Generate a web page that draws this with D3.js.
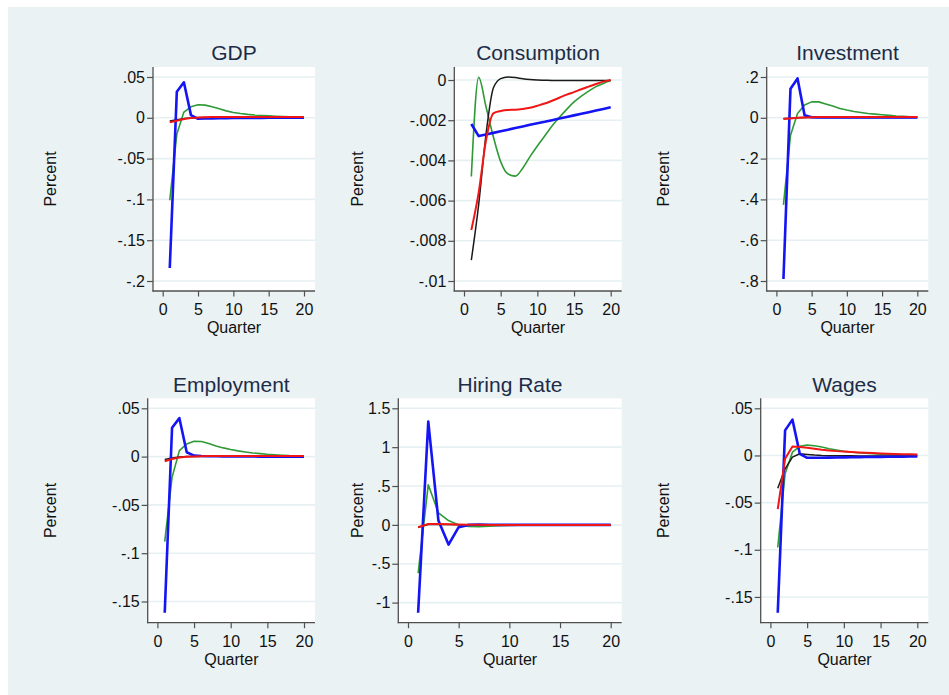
<!DOCTYPE html>
<html>
<head>
<meta charset="utf-8">
<script src="https://cdn.jsdelivr.net/npm/d3@7"></script>
<style>
  html, body { margin: 0; padding: 0; background: #ffffff; }
  svg { display: block; }
  text { font-family: "Liberation Sans", Arial, Helvetica, sans-serif; }
</style>
</head>
<body>
<svg id="chart" width="949" height="695"></svg>
<script>
// ---------------- DATA ----------------
const quarters = [1,2,3,4,5,6,7,8,9,10,11,12,13,14,15,16,17,18,19,20];
const panelTitles = ["GDP", "Consumption", "Investment", "Employment", "Hiring Rate", "Wages"];
const xTicks = [0, 5, 10, 15, 20];

// GDP
const gdpTicks  = [0.05, 0, -0.05, -0.1, -0.15, -0.2];
const gdpBlue   = [-0.184, 0.032, 0.0435, 0.0033, -0.0012, -0.0009, -0.0007, -0.0005, -0.0004, -0.0003, -0.0002, -0.0002, -0.0001, -0.0001, 0, 0, 0, 0, 0, 0];
const gdpGreen  = [-0.101, -0.02, 0.007, 0.0135, 0.016, 0.0155, 0.0135, 0.011, 0.0085, 0.0065, 0.0052, 0.0042, 0.0034, 0.0028, 0.0023, 0.0018, 0.0014, 0.0011, 0.0009, 0.0007];
const gdpRed    = [-0.0055, -0.0035, -0.0015, -0.0004, 0.0003, 0.0007, 0.0009, 0.001, 0.001, 0.001, 0.001, 0.001, 0.001, 0.001, 0.001, 0.001, 0.001, 0.001, 0.001, 0.001];
const gdpBlack  = [-0.004, -0.0025, -0.001, -0.0002, 0.0002, 0.0004, 0.0005, 0.0005, 0.0005, 0.0005, 0.0005, 0.0005, 0.0005, 0.0005, 0.0005, 0.0005, 0.0005, 0.0005, 0.0005, 0.0005];

// Consumption
const conTicks  = [0, -0.002, -0.004, -0.006, -0.008, -0.01];
const conBlue   = [-0.00219, -0.00279, -0.00271, -0.00263, -0.00255, -0.00247, -0.00239, -0.00231, -0.00223, -0.00215, -0.00208, -0.002, -0.00192, -0.00184, -0.00176, -0.00168, -0.0016, -0.00152, -0.00144, -0.00136];
const conGreen  = [-0.0048, 0.00013, -0.00133, -0.00282, -0.00406, -0.00468, -0.00478, -0.00439, -0.00381, -0.00328, -0.00279, -0.00229, -0.00186, -0.00146, -0.00109, -0.0008, -0.00055, -0.00033, -0.00017, -0.00003];
const conRed    = [-0.00746, -0.0056, -0.003, -0.00166, -0.00154, -0.00149, -0.00148, -0.00144, -0.00138, -0.00128, -0.00117, -0.00103, -0.00088, -0.00073, -0.0006, -0.00046, -0.00033, -0.0002, -0.00008, 0];
const conBlack  = [-0.00896, -0.0062, -0.0027, -0.0004, 0.00007, 0.00015, 0.00012, 0.00006, 0.00002, 0, -0.00001, -0.00002, -0.00002, -0.00003, -0.00003, -0.00003, -0.00003, -0.00003, -0.00003, -0.00003];

// Investment
const invTicks  = [0.2, 0, -0.2, -0.4, -0.6, -0.8];
const invBlue   = [-0.79, 0.142, 0.193, 0.013, 0.003, 0.002, 0.002, 0.002, 0.002, 0.002, 0.002, 0.002, 0.002, 0.002, 0.002, 0.002, 0.002, 0.002, 0.002, 0.002];
const invGreen  = [-0.427, -0.086, 0.021, 0.063, 0.078, 0.078, 0.068, 0.058, 0.046, 0.038, 0.031, 0.026, 0.021, 0.018, 0.015, 0.012, 0.009, 0.007, 0.005, 0.004];
const invRed    = [-0.006, -0.003, 0, 0.002, 0.003, 0.004, 0.004, 0.004, 0.004, 0.004, 0.004, 0.004, 0.004, 0.004, 0.004, 0.004, 0.004, 0.004, 0.004, 0.004];
const invBlack  = [-0.004, -0.002, 0, 0.001, 0.002, 0.002, 0.002, 0.002, 0.002, 0.002, 0.002, 0.002, 0.002, 0.002, 0.002, 0.002, 0.002, 0.002, 0.002, 0.002];

// Employment
const empTicks  = [0.05, 0, -0.05, -0.1, -0.15];
const empBlue   = [-0.1616, 0.0298, 0.0398, 0.0045, 0.001, 0.0006, 0.0004, 0.0003, 0.0002, 0.0002, 0.0001, 0.0001, 0.0001, 0, 0, 0, 0, 0, 0, 0];
const empGreen  = [-0.088, -0.0215, 0.0062, 0.0131, 0.0159, 0.0156, 0.0135, 0.011, 0.009, 0.0073, 0.0059, 0.0048, 0.0038, 0.0031, 0.0024, 0.0019, 0.0014, 0.001, 0.0009, 0.0007];
const empRed    = [-0.0048, -0.0025, -0.001, -0.0002, 0.0002, 0.0004, 0.0005, 0.0005, 0.0005, 0.0005, 0.0005, 0.0005, 0.0005, 0.0005, 0.0005, 0.0005, 0.0005, 0.0005, 0.0005, 0.0005];
const empBlack  = [-0.003, -0.0015, -0.0005, 0, 0.0002, 0.0003, 0.0003, 0.0003, 0.0003, 0.0003, 0.0003, 0.0003, 0.0003, 0.0003, 0.0003, 0.0003, 0.0003, 0.0003, 0.0003, 0.0003];

// Hiring Rate
const hirTicks  = [1.5, 1, 0.5, 0, -0.5, -1];
const hirBlue   = [-1.13, 1.328, 0.056, -0.254, -0.03, 0, 0.005, 0.002, 0, 0, 0, 0, 0, 0, 0, 0, 0, 0, 0, 0];
const hirGreen  = [-0.62, 0.517, 0.155, 0.056, 0, -0.02, -0.022, -0.018, -0.012, -0.007, -0.004, -0.002, -0.001, 0, 0, 0, 0, 0, 0, 0];
const hirRed    = [-0.03, 0.012, 0.012, 0.008, 0.004, 0.002, 0.001, 0, 0, 0, 0, 0, 0, 0, 0, 0, 0, 0, 0, 0];
const hirBlack  = [-0.03, 0.005, 0.008, 0.005, 0.002, 0.001, 0, 0, 0, 0, 0, 0, 0, 0, 0, 0, 0, 0, 0, 0];

// Wages
const wagTicks  = [0.05, 0, -0.05, -0.1, -0.15];
const wagBlue   = [-0.1667, 0.0266, 0.038, 0.0018, -0.0025, -0.0025, -0.0024, -0.0023, -0.0022, -0.002, -0.0019, -0.0018, -0.0017, -0.0016, -0.0015, -0.0014, -0.0013, -0.0012, -0.0011, -0.001];
const wagGreen  = [-0.0976, -0.0195, 0.0035, 0.0096, 0.011, 0.0103, 0.0089, 0.0071, 0.0057, 0.0043, 0.0036, 0.0028, 0.0023, 0.0018, 0.0014, 0.0011, 0.0009, 0.0007, 0.0005, 0.0004];
const wagRed    = [-0.0568, -0.0035, 0.0096, 0.0089, 0.0082, 0.0071, 0.006, 0.0053, 0.0046, 0.0041, 0.0036, 0.0032, 0.0028, 0.0025, 0.0021, 0.0018, 0.0016, 0.0014, 0.0012, 0.0011];
const wagBlack  = [-0.0348, -0.0142, -0.0018, 0.0018, 0.0011, 0.0004, 0, -0.0002, -0.0003, -0.0004, -0.0004, -0.0005, -0.0005, -0.0005, -0.0005, -0.0005, -0.0005, -0.0005, -0.0005, -0.0005];

// ---------------- LAYOUT / STYLE ----------------
const panelData = [
  { ticks: gdpTicks, series: { green: gdpGreen, black: gdpBlack, blue: gdpBlue, red: gdpRed } },
  { ticks: conTicks, series: { green: conGreen, black: conBlack, blue: conBlue, red: conRed }, smooth: true },
  { ticks: invTicks, series: { green: invGreen, black: invBlack, blue: invBlue, red: invRed } },
  { ticks: empTicks, series: { green: empGreen, black: empBlack, blue: empBlue, red: empRed } },
  { ticks: hirTicks, series: { green: hirGreen, black: hirBlack, blue: hirBlue, red: hirRed } },
  { ticks: wagTicks, series: { green: wagGreen, black: wagBlack, blue: wagBlue, red: wagRed } }
];
const layout = [
  { left: 153,   right: 315,   top: 67,    bottom: 291,   labelX: 50.5 },
  { left: 454.3, right: 621.7, top: 67,    bottom: 291,   labelX: 357.5 },
  { left: 766.7, right: 928.3, top: 67,    bottom: 291,   labelX: 663.5 },
  { left: 147.7, right: 315,   top: 398.3, bottom: 622.7, labelX: 50.5 },
  { left: 398.3, right: 621.7, top: 398.3, bottom: 622.7, labelX: 357.5 },
  { left: 760.7, right: 928.3, top: 398.3, bottom: 622.7, labelX: 663.5 }
];
const styles = {
  green: { color: "#2f9a36", width: 1.6 },
  black: { color: "#1a1a1a", width: 1.5 },
  blue:  { color: "#1414f5", width: 2.6 },
  red:   { color: "#f01616", width: 2.0 }
};
const seriesOrder = ["green", "black", "blue", "red"];

const fmt = v => v === 0 ? "0" : String(+v.toFixed(6)).replace(/^(-?)0\./, "$1.");

// ---------------- DRAW ----------------
const svg = d3.select("#chart");
svg.append("rect").attr("x", 8).attr("y", 7).attr("width", 941).attr("height", 688).attr("fill", "#EAF2F3");

panelData.forEach((p, i) => {
  const L = layout[i];
  const g = svg.append("g");
  const allVals = Object.values(p.series).flat().concat(p.ticks);
  const lo = d3.min(allVals), hi = d3.max(allVals);

  const x = d3.scaleLinear().domain([0, 20]).range([L.left + 9.7, L.right - 11]);
  const y = d3.scaleLinear().domain([lo, hi]).range([L.bottom - 10, L.top + 10]);

  // plot region
  g.append("rect").attr("x", L.left).attr("y", L.top)
    .attr("width", L.right - L.left).attr("height", L.bottom - L.top).attr("fill", "#ffffff");

  // grid lines
  g.selectAll("line.grid").data(p.ticks).enter().append("line")
    .attr("x1", L.left).attr("x2", L.right)
    .attr("y1", d => y(d)).attr("y2", d => y(d))
    .attr("stroke", "#E6EFF1").attr("stroke-width", 1.6);

  // y axis
  const yAxis = d3.axisLeft(y).tickValues(p.ticks).tickFormat(fmt).tickSize(6).tickPadding(2);
  const ya = g.append("g").attr("transform", `translate(${L.left},0)`).call(yAxis);
  ya.select(".domain").remove();
  ya.selectAll(".tick line").attr("stroke", "#505050").attr("stroke-width", 1.2);
  ya.selectAll(".tick text").attr("font-size", 16).attr("fill", "#111").attr("font-family", '"Liberation Sans", Arial, sans-serif');

  // x axis
  const xAxis = d3.axisBottom(x).tickValues(xTicks).tickFormat(d3.format("d")).tickSize(5.5).tickPadding(7);
  const xa = g.append("g").attr("transform", `translate(0,${L.bottom})`).call(xAxis);
  xa.select(".domain").remove();
  xa.selectAll(".tick line").attr("stroke", "#505050").attr("stroke-width", 1.2);
  xa.selectAll(".tick text").attr("font-size", 16).attr("fill", "#111").attr("font-family", '"Liberation Sans", Arial, sans-serif');

  // axis lines spanning full plot region
  g.append("line").attr("x1", L.left).attr("x2", L.left).attr("y1", L.top).attr("y2", L.bottom + 0.6)
    .attr("stroke", "#505050").attr("stroke-width", 1.3);
  g.append("line").attr("x1", L.left - 0.6).attr("x2", L.right).attr("y1", L.bottom).attr("y2", L.bottom)
    .attr("stroke", "#505050").attr("stroke-width", 1.3);

  // series
  seriesOrder.forEach(key => {
    const vals = p.series[key];
    const line = d3.line()
      .x((d, j) => x(quarters[j]))
      .y(d => y(d))
      .curve(p.smooth && key !== "blue" ? d3.curveMonotoneX : d3.curveLinear);
    g.append("path").datum(vals).attr("d", line)
      .attr("fill", "none").attr("stroke", styles[key].color)
      .attr("stroke-width", styles[key].width)
      .attr("stroke-linejoin", "round").attr("stroke-linecap", "butt");
  });

  // title
  g.append("text").attr("x", (L.left + L.right) / 2).attr("y", L.top - 6.8)
    .attr("text-anchor", "middle").attr("font-size", 21).attr("fill", "#1c2c48")
    .text(panelTitles[i]);

  // x axis title
  g.append("text").attr("x", (L.left + L.right) / 2).attr("y", L.bottom + 42)
    .attr("text-anchor", "middle").attr("font-size", 16).attr("fill", "#111")
    .text("Quarter");

  // y axis title
  g.append("text").attr("transform", `translate(${L.labelX},${(L.top + L.bottom) / 2}) rotate(-90)`)
    .attr("text-anchor", "middle").attr("dy", "0.36em").attr("font-size", 16).attr("fill", "#111")
    .text("Percent");
});
</script>
</body>
</html>
